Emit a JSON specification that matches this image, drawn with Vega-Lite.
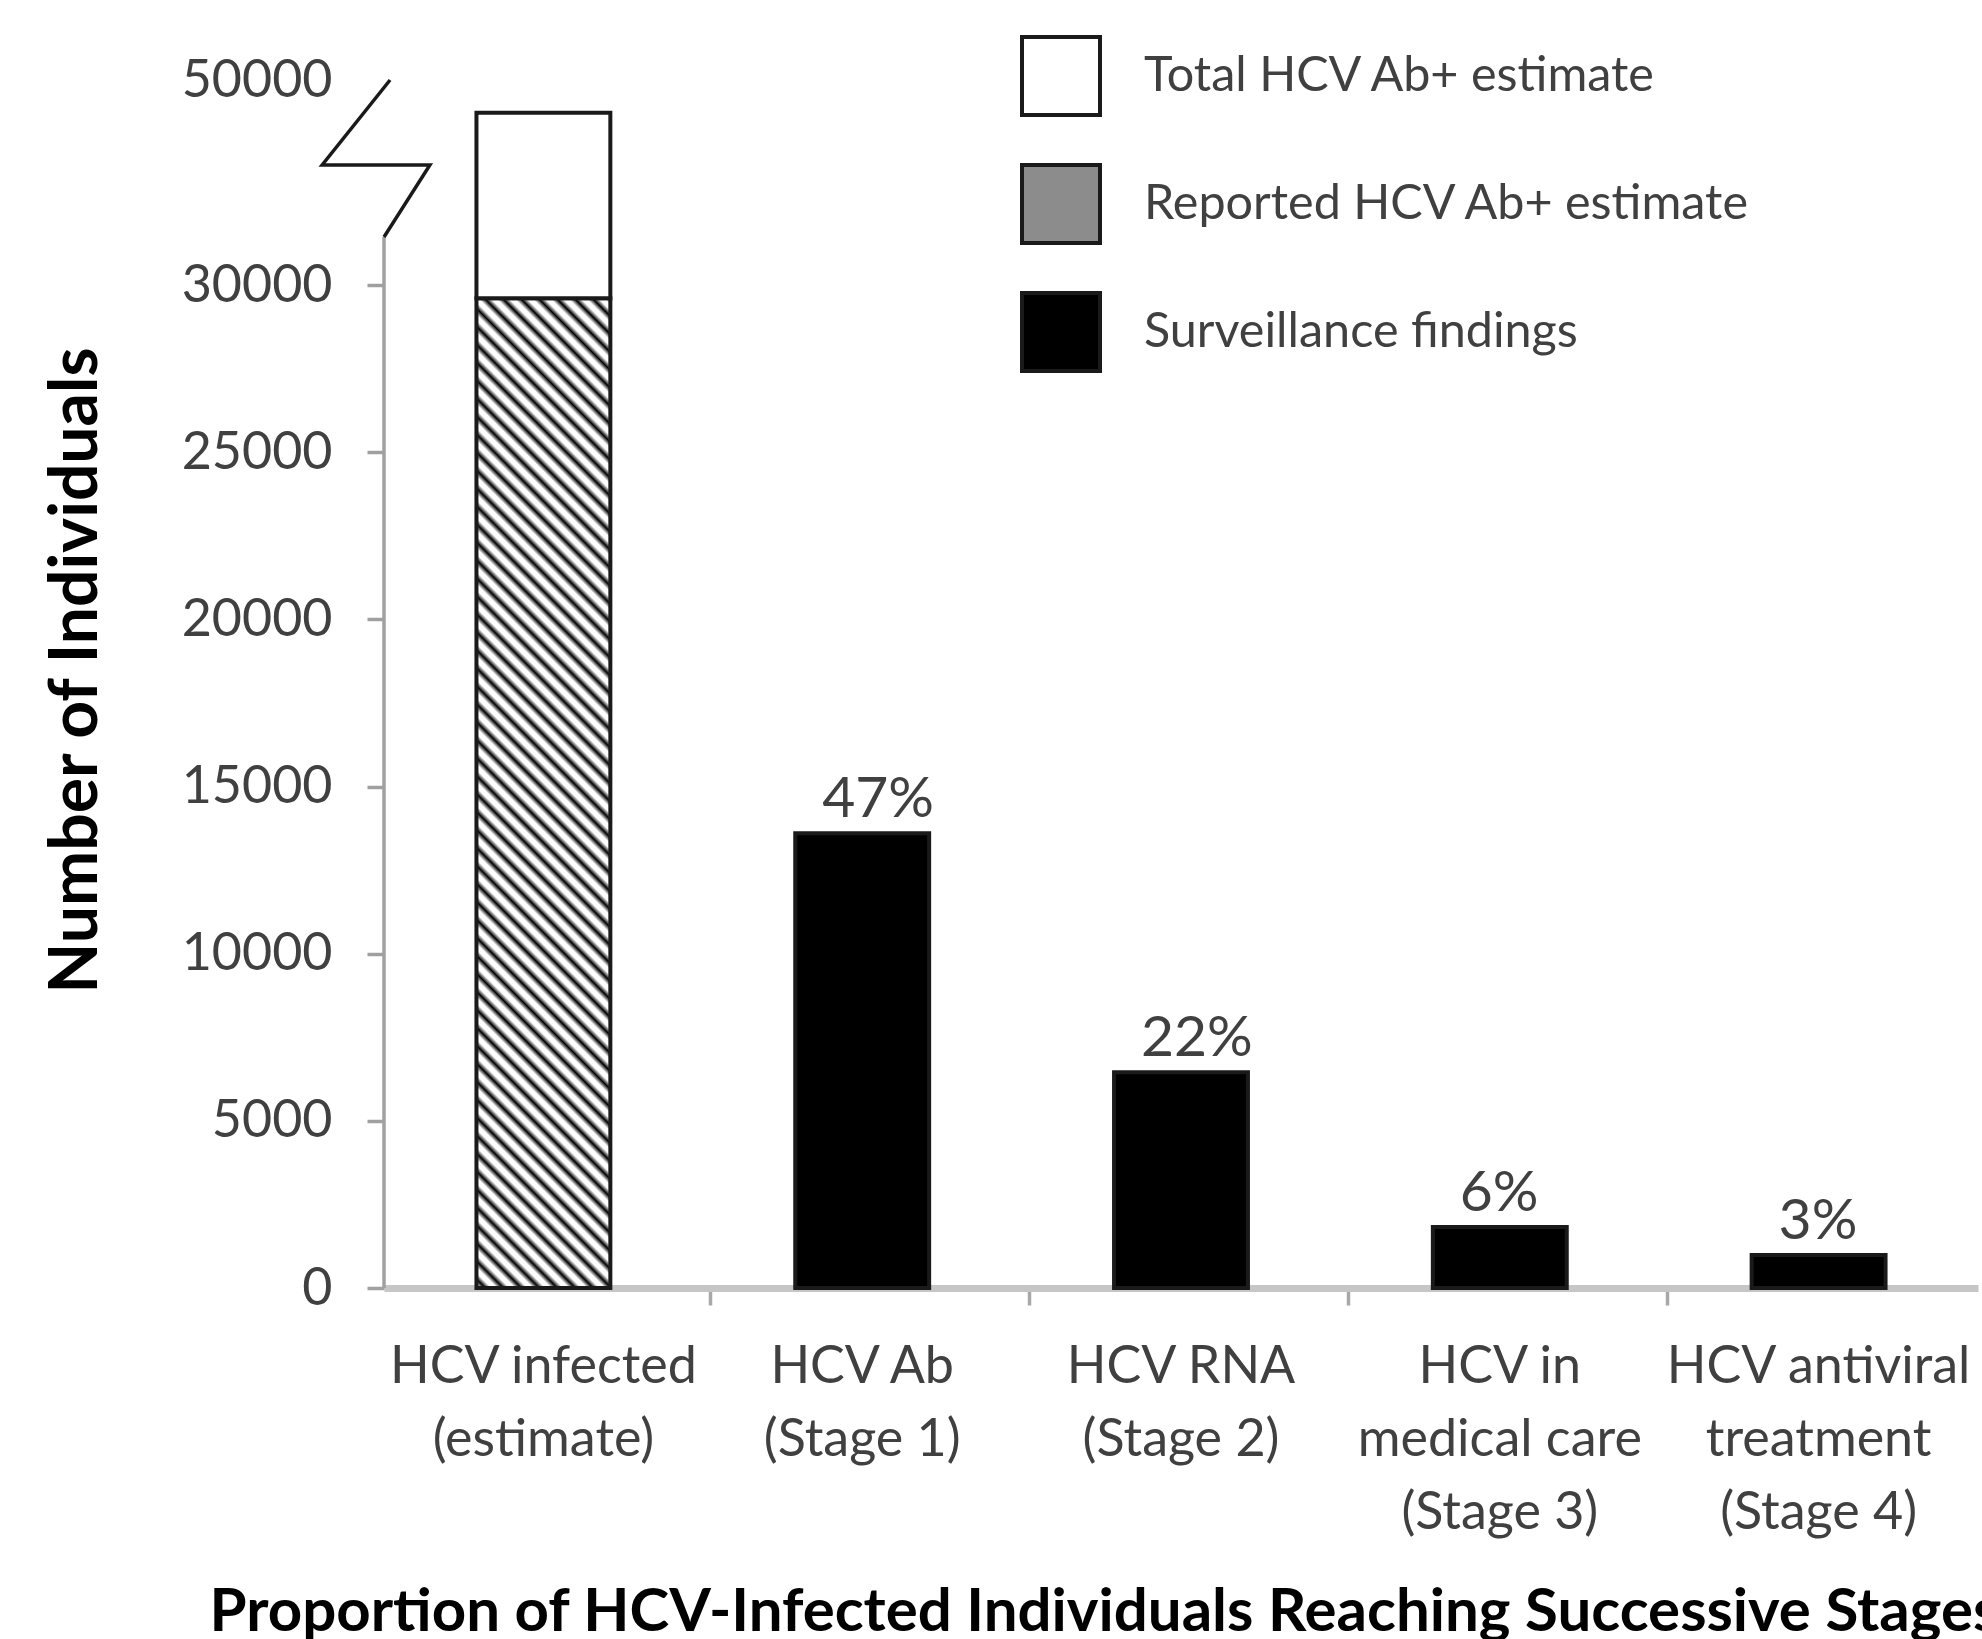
{
  "$schema": "https://vega.github.io/schema/vega-lite/v6.json",
  "width": 1594,
  "height": 1208,
  "autosize": {"type": "none"},
  "padding": {"left": 384, "top": 80, "right": 4, "bottom": 351},
  "background": "white",
  "config": {"view": {"stroke": null}, "font": "Lato"},
  "datasets": {
    "bars": [
      {"stage": "HCV infected (estimate)", "series": "Reported HCV Ab+ estimate", "low": 0, "high": 29600},
      {"stage": "HCV infected (estimate)", "series": "Total HCV Ab+ estimate", "low": 29600, "high": 46800},
      {"stage": "HCV Ab (Stage 1)", "series": "Surveillance findings", "low": 0, "high": 13600, "pct": "47%"},
      {"stage": "HCV RNA (Stage 2)", "series": "Surveillance findings", "low": 0, "high": 6450, "pct": "22%"},
      {"stage": "HCV in medical care (Stage 3)", "series": "Surveillance findings", "low": 0, "high": 1825, "pct": "6%"},
      {"stage": "HCV antiviral treatment (Stage 4)", "series": "Surveillance findings", "low": 0, "high": 990, "pct": "3%"}
    ],
    "brk": [
      {"i": 0, "part": "axis", "u": 0, "v": 0},
      {"i": 1, "part": "axis", "u": 0, "v": 34683},
      {"i": 0, "part": "zig", "u": 0, "v": 34683},
      {"i": 1, "part": "zig", "u": 0.144, "v": 41707},
      {"i": 2, "part": "zig", "u": -0.194, "v": 41707},
      {"i": 3, "part": "zig", "u": 0.019, "v": 50000}
    ]
  },
  "resolve": {"scale": {"x": "independent"}},
  "layer": [
    {
      "data": {"name": "bars"},
      "layer": [
        {
          "transform": [{"filter": "datum.series == 'Reported HCV Ab+ estimate'"}],
          "mark": {
            "type": "bar",
            "stroke": "#1a1a1a",
            "strokeWidth": 4,
            "fill": {
              "gradient": "linear", "x1": 1, "y1": 0, "x2": 0.8492, "y2": 1.1149,
              "stops": [
                {"offset": 0, "color": "#000"}, {"offset": 0.0056, "color": "#fff"}, {"offset": 0.0104, "color": "#fff"},
                {"offset": 0.016, "color": "#000"}, {"offset": 0.0216, "color": "#fff"}, {"offset": 0.0264, "color": "#fff"},
                {"offset": 0.032, "color": "#000"}, {"offset": 0.0376, "color": "#fff"}, {"offset": 0.0424, "color": "#fff"},
                {"offset": 0.048, "color": "#000"}, {"offset": 0.0536, "color": "#fff"}, {"offset": 0.0584, "color": "#fff"},
                {"offset": 0.064, "color": "#000"}, {"offset": 0.0696, "color": "#fff"}, {"offset": 0.0744, "color": "#fff"},
                {"offset": 0.08, "color": "#000"}, {"offset": 0.0856, "color": "#fff"}, {"offset": 0.0904, "color": "#fff"},
                {"offset": 0.096, "color": "#000"}, {"offset": 0.1016, "color": "#fff"}, {"offset": 0.1064, "color": "#fff"},
                {"offset": 0.112, "color": "#000"}, {"offset": 0.1176, "color": "#fff"}, {"offset": 0.1224, "color": "#fff"},
                {"offset": 0.128, "color": "#000"}, {"offset": 0.1336, "color": "#fff"}, {"offset": 0.1384, "color": "#fff"},
                {"offset": 0.144, "color": "#000"}, {"offset": 0.1496, "color": "#fff"}, {"offset": 0.1544, "color": "#fff"},
                {"offset": 0.16, "color": "#000"}, {"offset": 0.1656, "color": "#fff"}, {"offset": 0.1704, "color": "#fff"},
                {"offset": 0.176, "color": "#000"}, {"offset": 0.1816, "color": "#fff"}, {"offset": 0.1864, "color": "#fff"},
                {"offset": 0.192, "color": "#000"}, {"offset": 0.1976, "color": "#fff"}, {"offset": 0.2024, "color": "#fff"},
                {"offset": 0.208, "color": "#000"}, {"offset": 0.2136, "color": "#fff"}, {"offset": 0.2184, "color": "#fff"},
                {"offset": 0.224, "color": "#000"}, {"offset": 0.2296, "color": "#fff"}, {"offset": 0.2344, "color": "#fff"},
                {"offset": 0.24, "color": "#000"}, {"offset": 0.2456, "color": "#fff"}, {"offset": 0.2504, "color": "#fff"},
                {"offset": 0.256, "color": "#000"}, {"offset": 0.2616, "color": "#fff"}, {"offset": 0.2664, "color": "#fff"},
                {"offset": 0.272, "color": "#000"}, {"offset": 0.2776, "color": "#fff"}, {"offset": 0.2824, "color": "#fff"},
                {"offset": 0.288, "color": "#000"}, {"offset": 0.2936, "color": "#fff"}, {"offset": 0.2984, "color": "#fff"},
                {"offset": 0.304, "color": "#000"}, {"offset": 0.3096, "color": "#fff"}, {"offset": 0.3144, "color": "#fff"},
                {"offset": 0.32, "color": "#000"}, {"offset": 0.3256, "color": "#fff"}, {"offset": 0.3304, "color": "#fff"},
                {"offset": 0.336, "color": "#000"}, {"offset": 0.3416, "color": "#fff"}, {"offset": 0.3464, "color": "#fff"},
                {"offset": 0.352, "color": "#000"}, {"offset": 0.3576, "color": "#fff"}, {"offset": 0.3624, "color": "#fff"},
                {"offset": 0.368, "color": "#000"}, {"offset": 0.3736, "color": "#fff"}, {"offset": 0.3784, "color": "#fff"},
                {"offset": 0.384, "color": "#000"}, {"offset": 0.3896, "color": "#fff"}, {"offset": 0.3944, "color": "#fff"},
                {"offset": 0.4, "color": "#000"}, {"offset": 0.4056, "color": "#fff"}, {"offset": 0.4104, "color": "#fff"},
                {"offset": 0.416, "color": "#000"}, {"offset": 0.4216, "color": "#fff"}, {"offset": 0.4264, "color": "#fff"},
                {"offset": 0.432, "color": "#000"}, {"offset": 0.4376, "color": "#fff"}, {"offset": 0.4424, "color": "#fff"},
                {"offset": 0.448, "color": "#000"}, {"offset": 0.4536, "color": "#fff"}, {"offset": 0.4584, "color": "#fff"},
                {"offset": 0.464, "color": "#000"}, {"offset": 0.4696, "color": "#fff"}, {"offset": 0.4744, "color": "#fff"},
                {"offset": 0.48, "color": "#000"}, {"offset": 0.4856, "color": "#fff"}, {"offset": 0.4904, "color": "#fff"},
                {"offset": 0.496, "color": "#000"}, {"offset": 0.5016, "color": "#fff"}, {"offset": 0.5064, "color": "#fff"},
                {"offset": 0.512, "color": "#000"}, {"offset": 0.5176, "color": "#fff"}, {"offset": 0.5224, "color": "#fff"},
                {"offset": 0.528, "color": "#000"}, {"offset": 0.5336, "color": "#fff"}, {"offset": 0.5384, "color": "#fff"},
                {"offset": 0.544, "color": "#000"}, {"offset": 0.5496, "color": "#fff"}, {"offset": 0.5544, "color": "#fff"},
                {"offset": 0.56, "color": "#000"}, {"offset": 0.5656, "color": "#fff"}, {"offset": 0.5704, "color": "#fff"},
                {"offset": 0.576, "color": "#000"}, {"offset": 0.5816, "color": "#fff"}, {"offset": 0.5864, "color": "#fff"},
                {"offset": 0.592, "color": "#000"}, {"offset": 0.5976, "color": "#fff"}, {"offset": 0.6024, "color": "#fff"},
                {"offset": 0.608, "color": "#000"}, {"offset": 0.6136, "color": "#fff"}, {"offset": 0.6184, "color": "#fff"},
                {"offset": 0.624, "color": "#000"}, {"offset": 0.6296, "color": "#fff"}, {"offset": 0.6344, "color": "#fff"},
                {"offset": 0.64, "color": "#000"}, {"offset": 0.6456, "color": "#fff"}, {"offset": 0.6504, "color": "#fff"},
                {"offset": 0.656, "color": "#000"}, {"offset": 0.6616, "color": "#fff"}, {"offset": 0.6664, "color": "#fff"},
                {"offset": 0.672, "color": "#000"}, {"offset": 0.6776, "color": "#fff"}, {"offset": 0.6824, "color": "#fff"},
                {"offset": 0.688, "color": "#000"}, {"offset": 0.6936, "color": "#fff"}, {"offset": 0.6984, "color": "#fff"},
                {"offset": 0.704, "color": "#000"}, {"offset": 0.7096, "color": "#fff"}, {"offset": 0.7144, "color": "#fff"},
                {"offset": 0.72, "color": "#000"}, {"offset": 0.7256, "color": "#fff"}, {"offset": 0.7304, "color": "#fff"},
                {"offset": 0.736, "color": "#000"}, {"offset": 0.7416, "color": "#fff"}, {"offset": 0.7464, "color": "#fff"},
                {"offset": 0.752, "color": "#000"}, {"offset": 0.7576, "color": "#fff"}, {"offset": 0.7624, "color": "#fff"},
                {"offset": 0.768, "color": "#000"}, {"offset": 0.7736, "color": "#fff"}, {"offset": 0.7784, "color": "#fff"},
                {"offset": 0.784, "color": "#000"}, {"offset": 0.7896, "color": "#fff"}, {"offset": 0.7944, "color": "#fff"},
                {"offset": 0.8, "color": "#000"}, {"offset": 0.8056, "color": "#fff"}, {"offset": 0.8104, "color": "#fff"},
                {"offset": 0.816, "color": "#000"}, {"offset": 0.8216, "color": "#fff"}, {"offset": 0.8264, "color": "#fff"},
                {"offset": 0.832, "color": "#000"}, {"offset": 0.8376, "color": "#fff"}, {"offset": 0.8424, "color": "#fff"},
                {"offset": 0.848, "color": "#000"}, {"offset": 0.8536, "color": "#fff"}, {"offset": 0.8584, "color": "#fff"},
                {"offset": 0.864, "color": "#000"}, {"offset": 0.8696, "color": "#fff"}, {"offset": 0.8744, "color": "#fff"},
                {"offset": 0.88, "color": "#000"}, {"offset": 0.8856, "color": "#fff"}, {"offset": 0.8904, "color": "#fff"},
                {"offset": 0.896, "color": "#000"}, {"offset": 0.9016, "color": "#fff"}, {"offset": 0.9064, "color": "#fff"},
                {"offset": 0.912, "color": "#000"}, {"offset": 0.9176, "color": "#fff"}, {"offset": 0.9224, "color": "#fff"},
                {"offset": 0.928, "color": "#000"}, {"offset": 0.9336, "color": "#fff"}, {"offset": 0.9384, "color": "#fff"},
                {"offset": 0.944, "color": "#000"}, {"offset": 0.9496, "color": "#fff"}, {"offset": 0.9544, "color": "#fff"},
                {"offset": 0.96, "color": "#000"}, {"offset": 0.9656, "color": "#fff"}, {"offset": 0.9704, "color": "#fff"},
                {"offset": 0.976, "color": "#000"}, {"offset": 0.9816, "color": "#fff"}, {"offset": 0.9864, "color": "#fff"},
                {"offset": 0.992, "color": "#000"}, {"offset": 0.9976, "color": "#fff"}, {"offset": 1, "color": "#fff"}
              ]
            }
          },
          "encoding": {
            "x": {
              "field": "stage", "type": "nominal", "sort": null,
              "scale": {
                "domain": ["HCV infected (estimate)", "HCV Ab (Stage 1)", "HCV RNA (Stage 2)", "HCV in medical care (Stage 3)", "HCV antiviral treatment (Stage 4)"],
                "paddingInner": 0.58, "paddingOuter": 0.29
              },
              "axis": {
                "labelExpr": "datum.value == 'HCV infected (estimate)' ? ['HCV infected', '(estimate)'] : datum.value == 'HCV Ab (Stage 1)' ? ['HCV Ab', '(Stage 1)'] : datum.value == 'HCV RNA (Stage 2)' ? ['HCV RNA', '(Stage 2)'] : datum.value == 'HCV in medical care (Stage 3)' ? ['HCV in', 'medical care', '(Stage 3)'] : ['HCV antiviral', 'treatment', '(Stage 4)']",
                "domainColor": "#c6c6c6", "domainWidth": 7,
                "tickSize": 17, "tickWidth": 3.5, "tickColor": "#a8a8a8", "bandPosition": 1.75,
                "labelAngle": 0, "labelFont": "Lato", "labelFontSize": 52, "labelColor": "#404040",
                "labelBaseline": "top", "labelLineHeight": 73, "labelPadding": 36, "labelLimit": 0,
                "title": "Proportion of HCV-Infected Individuals Reaching Successive Stages",
                "titleFont": "Lato", "titleFontSize": 60, "titleFontWeight": "bold", "titleColor": "#000",
                "titleAlign": "left", "titleAnchor": "start", "titleX": -175, "titleY": 324, "titleBaseline": "middle", "titleLimit": 0
              }
            },
            "y": {
              "field": "high", "type": "quantitative",
              "scale": {"domain": [0, 30000, 50000], "range": [1208, 205, 0], "nice": false, "zero": false},
              "axis": {
                "values": [0, 5000, 10000, 15000, 20000, 25000, 30000, 50000],
                "format": "d", "domain": false, "grid": false,
                "tickSize": 17, "tickWidth": 3.5, "tickColor": "#a0a0a0",
                "tickOpacity": {"condition": {"test": "datum.value == 50000", "value": 0}, "value": 1},
                "labelFont": "Lato", "labelFontSize": 52, "labelColor": "#404040", "labelPadding": 35,
                "labelFlush": false, "labelOverlap": false,
                "title": "Number of Individuals", "titleFont": "Lato", "titleFontSize": 66, "titleFontWeight": "bold", "titleColor": "#000",
                "titleX": -288, "titleY": 590, "titleAngle": -90, "titleBaseline": "alphabetic", "titleAlign": "center"
              }
            },
            "y2": {"field": "low"}
          }
        },
        {
          "transform": [{"filter": "datum.series != 'Reported HCV Ab+ estimate'"}],
          "mark": {"type": "bar", "stroke": "#1a1a1a", "strokeWidth": 4},
          "encoding": {
            "x": {"field": "stage", "type": "nominal", "sort": null},
            "y": {"field": "high", "type": "quantitative", "scale": {"domain": [0, 30000, 50000], "range": [1208, 205, 0], "nice": false, "zero": false}},
            "y2": {"field": "low"},
            "color": {
              "field": "series", "type": "nominal",
              "scale": {
                "domain": ["Total HCV Ab+ estimate", "Reported HCV Ab+ estimate", "Surveillance findings"],
                "range": ["#ffffff", "#8c8c8c", "#000000"]
              },
              "legend": {
                "orient": "none", "legendX": 636, "legendY": -45, "title": null,
                "symbolType": "square", "symbolSize": 6084, "symbolStrokeColor": "#1a1a1a", "symbolStrokeWidth": 4, "symbolOpacity": 1,
                "labelFont": "Lato", "labelFontSize": 48.5, "labelColor": "#404040", "labelOffset": 42, "labelLimit": 0,
                "rowPadding": 34, "padding": 0
              }
            }
          }
        },
        {
          "transform": [{"filter": "datum.pct != null"}],
          "mark": {"type": "text", "align": "left", "baseline": "alphabetic", "dx": -40, "dy": -16, "font": "Lato", "fontSize": 57, "color": "#404040"},
          "encoding": {
            "x": {"field": "stage", "type": "nominal", "sort": null},
            "y": {"field": "high", "type": "quantitative", "scale": {"domain": [0, 30000, 50000], "range": [1208, 205, 0], "nice": false, "zero": false}},
            "text": {"field": "pct"}
          }
        }
      ]
    },
    {
      "data": {"name": "brk"},
      "transform": [{"filter": "datum.part == 'axis'"}],
      "mark": {"type": "line", "color": "#a0a0a0", "strokeWidth": 3.5},
      "encoding": {
        "x": {"field": "u", "type": "quantitative", "scale": {"domain": [0, 5], "nice": false, "zero": false}, "axis": null},
        "y": {"field": "v", "type": "quantitative", "scale": {"domain": [0, 30000, 50000], "range": [1208, 205, 0], "nice": false, "zero": false}},
        "order": {"field": "i"}
      }
    },
    {
      "data": {"name": "brk"},
      "transform": [{"filter": "datum.part == 'zig'"}],
      "mark": {"type": "line", "color": "#1a1a1a", "strokeWidth": 3.5},
      "encoding": {
        "x": {"field": "u", "type": "quantitative", "scale": {"domain": [0, 5], "nice": false, "zero": false}, "axis": null},
        "y": {"field": "v", "type": "quantitative", "scale": {"domain": [0, 30000, 50000], "range": [1208, 205, 0], "nice": false, "zero": false}},
        "order": {"field": "i"}
      }
    }
  ]
}
